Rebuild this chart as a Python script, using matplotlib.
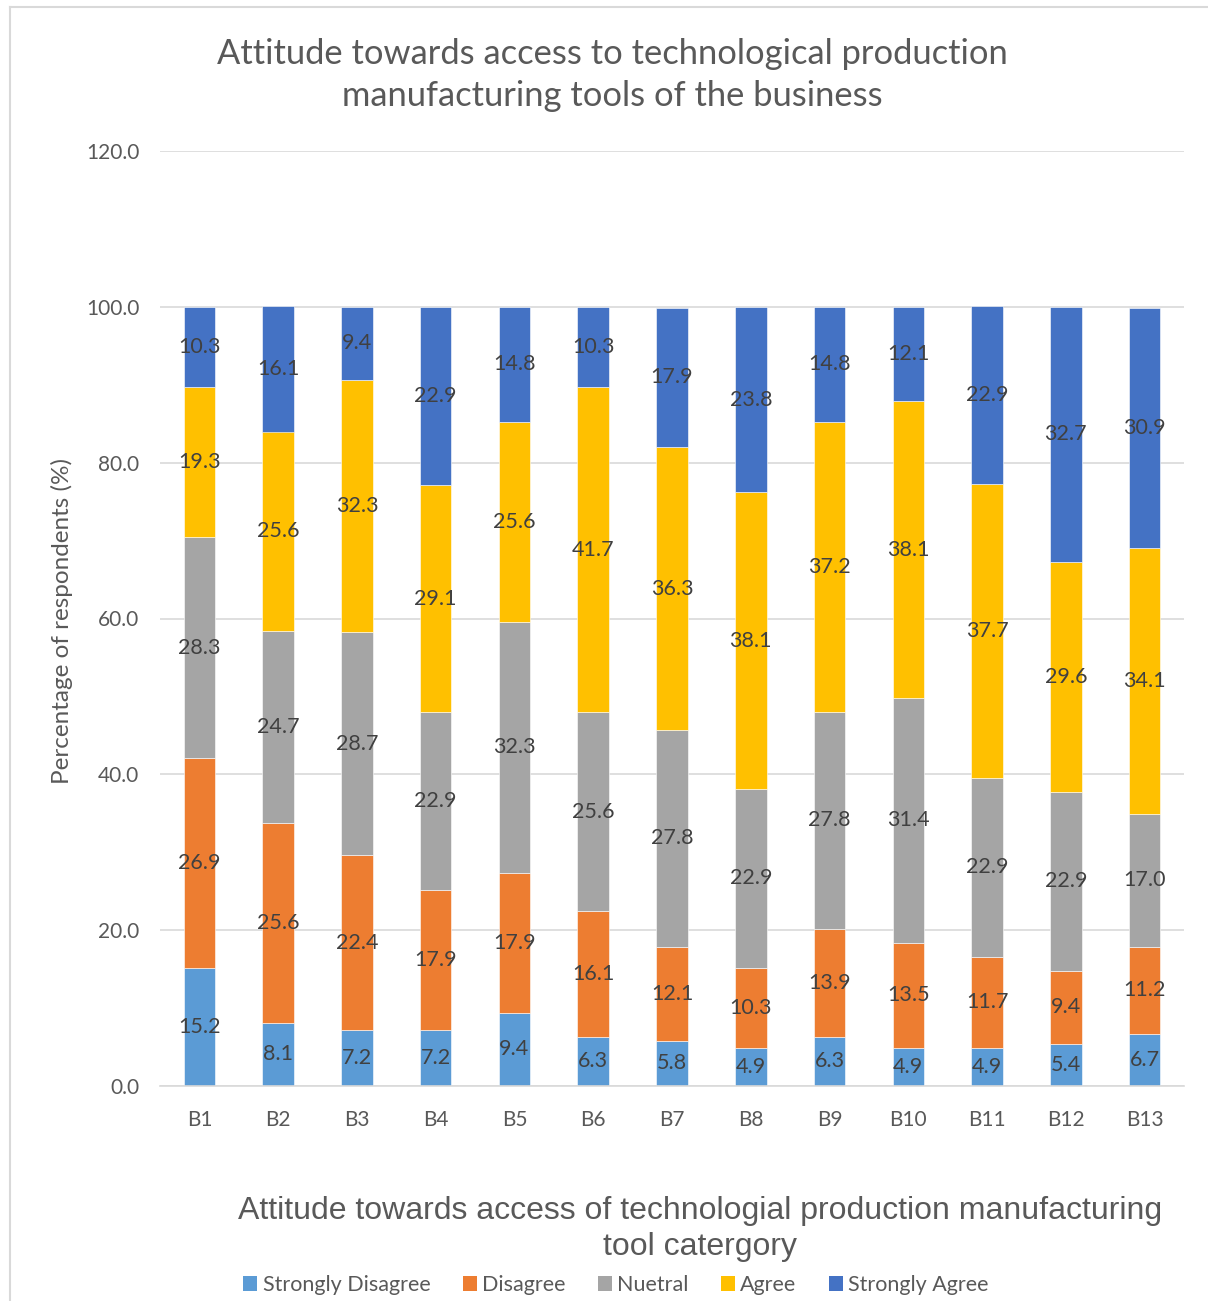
import matplotlib
matplotlib.use("Agg")
import matplotlib.pyplot as plt
from matplotlib.lines import Line2D
from matplotlib.patches import Patch
import numpy as np

plt.rcParams['font.family'] = ['Lato', 'DejaVu Sans']

categories = ["B1", "B2", "B3", "B4", "B5", "B6", "B7", "B8", "B9", "B10", "B11", "B12", "B13"]
series_names = ["Strongly Disagree", "Disagree", "Nuetral", "Agree", "Strongly Agree"]
strongly_disagree = [15.2, 8.1, 7.2, 7.2, 9.4, 6.3, 5.8, 4.9, 6.3, 4.9, 4.9, 5.4, 6.7]
disagree = [26.9, 25.6, 22.4, 17.9, 17.9, 16.1, 12.1, 10.3, 13.9, 13.5, 11.7, 9.4, 11.2]
neutral = [28.3, 24.7, 28.7, 22.9, 32.3, 25.6, 27.8, 22.9, 27.8, 31.4, 22.9, 22.9, 17.0]
agree = [19.3, 25.6, 32.3, 29.1, 25.6, 41.7, 36.3, 38.1, 37.2, 38.1, 37.7, 29.6, 34.1]
strongly_agree = [10.3, 16.1, 9.4, 22.9, 14.8, 10.3, 17.9, 23.8, 14.8, 12.1, 22.9, 32.7, 30.9]
y_ticks = [0, 20, 40, 60, 80, 100, 120]

colors = ["#5B9BD5", "#ED7D31", "#A5A5A5", "#FFC000", "#4472C4"]
series = [strongly_disagree, disagree, neutral, agree, strongly_agree]

W, H = 1208, 1301
fig = plt.figure(figsize=(W / 100, H / 100), dpi=100)
ax = fig.add_axes([160 / W, 1 - 1086 / H, 1024 / W, (1086 - 151) / H])

x = np.arange(len(categories))
bottom = np.zeros(len(categories))
for name, vals, col in zip(series_names, series, colors):
    vals = np.array(vals)
    ax.bar(x, vals, bottom=bottom, width=0.4, color=col, label=name,
           edgecolor="white", linewidth=0.4, zorder=2)
    for xi, b, v in zip(x, bottom, vals):
        ax.text(xi, b + v / 2, f"{v:.1f}", ha="center", va="center",
                fontsize=15.5, color="#404040", zorder=3)
    bottom += vals

ax.set_xlim(-0.5, len(categories) - 0.5)
ax.set_ylim(0, 120)
ax.set_yticks(y_ticks)
ax.set_yticklabels([f"{t:.1f}" for t in y_ticks])
ax.set_xticks(x)
ax.set_xticklabels(categories)
ax.tick_params(axis="both", length=0, labelsize=15, colors="#595959")
ax.tick_params(axis="y", pad=15)
ax.tick_params(axis="x", pad=17)
ax.grid(axis="y", color="#D9D9D9", linewidth=1.2, zorder=0)
ax.set_axisbelow(True)
for s in ["left", "right", "top"]:
    ax.spines[s].set_visible(False)
ax.spines["bottom"].set_color("#D9D9D9")
ax.spines["bottom"].set_linewidth(1.2)

fig.text(62 / W, 1 - 621 / H, "Percentage of respondents (%)", rotation=90,
         ha="center", va="center", fontsize=17.5, color="#595959")

fig.text(612 / W, 1 - 75 / H,
         "Attitude towards access to technological production\nmanufacturing tools of the business",
         ha="center", va="center", fontsize=24.8, color="#595959", linespacing=1.4)

fig.text(700 / W, 1 - 1229 / H,
         "Attitude towards access of technologial production manufacturing\ntool catergory",
         ha="center", va="center", fontsize=23, color="#595959", linespacing=1.22,
         family=["Liberation Sans Narrow", "Liberation Sans", "DejaVu Sans"])

handles = [Patch(facecolor=c, edgecolor="none") for c in colors]
fig.legend(handles, series_names, loc="center", bbox_to_anchor=(616 / W, 1 - 1285 / H),
           ncol=5, frameon=False, fontsize=15.5, handlelength=0.65, handleheight=0.65,
           handletextpad=0.25, columnspacing=1.5, labelcolor="#595959")

# chart border (top and left edges)
fig.add_artist(Line2D([10 / W, 1.0], [1 - 7 / H, 1 - 7 / H], color="#D9D9D9", linewidth=1.5,
                      transform=fig.transFigure))
fig.add_artist(Line2D([10 / W, 10 / W], [0, 1 - 7 / H], color="#D9D9D9", linewidth=1.5,
                      transform=fig.transFigure))

fig.savefig("out.png", dpi=100, facecolor="white")
